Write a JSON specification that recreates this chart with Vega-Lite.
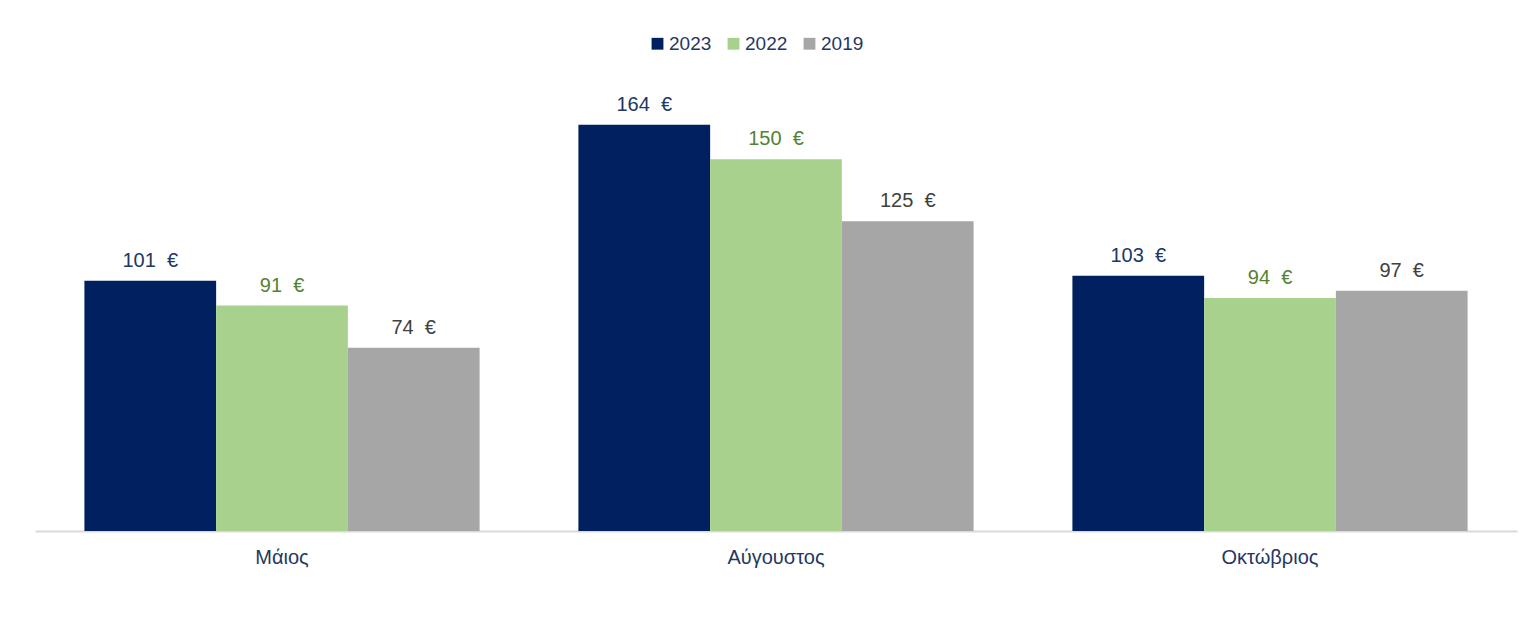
{
  "$schema": "https://vega.github.io/schema/vega-lite/v6.json",
  "width": 1482,
  "height": 446,
  "autosize": {"type": "none"},
  "padding": {"left": 35, "top": 85, "right": 9, "bottom": 95},
  "background": "white",
  "config": {"view": {"stroke": null}, "font": "Liberation Sans"},
  "data": {
    "values": [
      {"month": "Μάιος", "year": "2023", "value": 101, "label": "101\u00a0\u00a0€"},
      {"month": "Μάιος", "year": "2022", "value": 91, "label": "91\u00a0\u00a0€"},
      {"month": "Μάιος", "year": "2019", "value": 74, "label": "74\u00a0\u00a0€"},
      {"month": "Αύγουστος", "year": "2023", "value": 164, "label": "164\u00a0\u00a0€"},
      {"month": "Αύγουστος", "year": "2022", "value": 150, "label": "150\u00a0\u00a0€"},
      {"month": "Αύγουστος", "year": "2019", "value": 125, "label": "125\u00a0\u00a0€"},
      {"month": "Οκτώβριος", "year": "2023", "value": 103, "label": "103\u00a0\u00a0€"},
      {"month": "Οκτώβριος", "year": "2022", "value": 94, "label": "94\u00a0\u00a0€"},
      {"month": "Οκτώβριος", "year": "2019", "value": 97, "label": "97\u00a0\u00a0€"}
    ]
  },
  "encoding": {
    "x": {
      "field": "month",
      "type": "nominal",
      "sort": ["Μάιος", "Αύγουστος", "Οκτώβριος"],
      "scale": {"paddingInner": 0.2, "paddingOuter": 0.1},
      "axis": {
        "title": null,
        "labelAngle": 0,
        "labelFontSize": 20,
        "labelColor": "#1F3864",
        "domainColor": "#D9D9D9",
        "domainWidth": 2,
        "ticks": false,
        "labelPadding": 16
      }
    },
    "xOffset": {
      "field": "year",
      "type": "nominal",
      "sort": ["2023", "2022", "2019"],
      "scale": {"paddingInner": 0, "paddingOuter": 0}
    },
    "y": {
      "field": "value",
      "type": "quantitative",
      "scale": {"domain": [0, 180]},
      "axis": null
    }
  },
  "layer": [
    {
      "mark": {"type": "bar"},
      "encoding": {
        "color": {
          "field": "year",
          "type": "nominal",
          "scale": {"domain": ["2023", "2022", "2019"], "range": ["#002060", "#A9D18E", "#A6A6A6"]},
          "legend": {
            "title": null,
            "orient": "none",
            "direction": "horizontal",
            "legendX": 613,
            "legendY": -51,
            "padding": 0,
            "symbolType": "square",
            "symbolSize": 140,
            "symbolStrokeWidth": 0,
            "symbolOpacity": 1,
            "labelFontSize": 19,
            "labelColor": "#1F3864",
            "labelOffset": 2,
            "columnPadding": 12
          }
        }
      }
    },
    {
      "mark": {"type": "text", "baseline": "alphabetic", "dy": -14, "fontSize": 20},
      "encoding": {
        "text": {"field": "label", "type": "nominal"},
        "color": {
          "field": "year",
          "type": "nominal",
          "scale": {"domain": ["2023", "2022", "2019"], "range": ["#203864", "#548235", "#404040"]},
          "legend": null
        }
      }
    }
  ],
  "resolve": {"scale": {"color": "independent"}}
}
